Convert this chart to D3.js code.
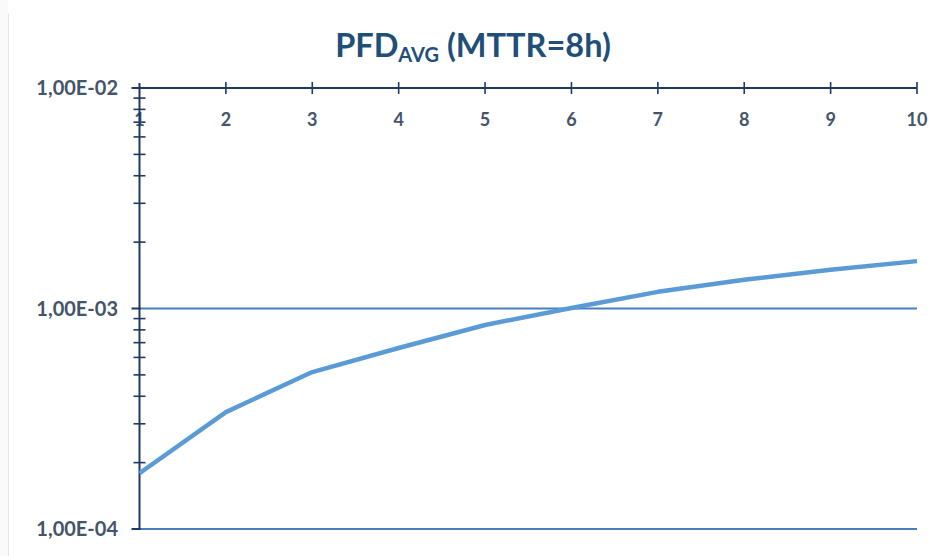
<!DOCTYPE html>
<html><head><meta charset="utf-8">
<script src="https://cdn.jsdelivr.net/npm/d3@7"></script>
<style>body{margin:0;background:#fff}</style>
</head><body>
<svg id="c" width="929" height="556"></svg>
<script>
const years = [1,2,3,4,5,6,7,8,9,10];
const pfdAvg = [1.79e-4,3.39e-4,5.15e-4,6.62e-4,8.42e-4,1.005e-3,1.19e-3,1.35e-3,1.50e-3,1.64e-3];
const yTickValues = [1e-2,1e-3,1e-4];
const yTickLabels = ["1,00E-02","1,00E-03","1,00E-04"];
const titleMain = "PFD", titleSub = "AVG", titleRest = " (MTTR=8h)";

const svg = d3.select("#c");
const navy = "#203864", gridC = "#4a7ebb", lineC = "#5b9bd5", labelC = "#44546a";
const font = "Lato, 'Open Sans', sans-serif";

// faint page edge
svg.append("rect").attr("x",0).attr("y",0).attr("width",8).attr("height",556).attr("fill","#fafafa");
svg.append("line").attr("x1",8.5).attr("x2",8.5).attr("y1",14).attr("y2",556).attr("stroke","#e6e6e6");

const x = d3.scaleLinear().domain([1,10]).range([139.5,917]);
const y = d3.scaleLog().domain([1e-4,1e-2]).range([529,88]);

// gridlines
svg.append("g").selectAll("line").data([1e-3,1e-4]).join("line")
  .attr("x1",x(1)).attr("x2",x(10)).attr("y1",d=>y(d)).attr("y2",d=>y(d))
  .attr("stroke",gridC).attr("stroke-width",2);

// y axis minor ticks (crossing)
const minor = [];
[1e-4,1e-3].forEach(b=>{for(let k=2;k<=9;k++) minor.push(b*k);});
svg.append("g").selectAll("line").data(minor).join("line")
  .attr("x1",x(1)-6).attr("x2",x(1)+6).attr("y1",d=>y(d)).attr("y2",d=>y(d))
  .attr("stroke",navy).attr("stroke-width",1.6);
svg.append("g").selectAll("line").data(yTickValues).join("line")
  .attr("x1",x(1)-8).attr("x2",x(1)+1).attr("y1",d=>y(d)).attr("y2",d=>y(d))
  .attr("stroke",navy).attr("stroke-width",2);

// x tick labels (below top axis)
svg.append("g").selectAll("text").data(years).join("text")
  .attr("x",d=>x(d)).attr("y",126).attr("text-anchor","middle")
  .attr("font-family",font).attr("font-weight","bold").attr("font-size",18)
  .attr("fill",labelC).text(d=>d);

// top x axis line & ticks
svg.append("line").attr("x1",x(1)).attr("x2",x(10)).attr("y1",y(1e-2)).attr("y2",y(1e-2))
  .attr("stroke",navy).attr("stroke-width",2);
svg.append("g").selectAll("line").data(years.slice(1)).join("line")
  .attr("x1",d=>x(d)).attr("x2",d=>x(d)).attr("y1",y(1e-2)-6).attr("y2",y(1e-2)+6)
  .attr("stroke",navy).attr("stroke-width",1.6);

// y axis line
svg.append("line").attr("x1",x(1)).attr("x2",x(1)).attr("y1",y(1e-2)-5).attr("y2",y(1e-4))
  .attr("stroke",navy).attr("stroke-width",2);

// y labels
svg.append("g").selectAll("text").data(yTickValues).join("text")
  .attr("x",118).attr("y",d=>y(d)+7).attr("text-anchor","end")
  .attr("font-family",font).attr("font-weight","bold").attr("font-size",20)
  .attr("fill",labelC).text((d,i)=>yTickLabels[i]);

// data line
const line = d3.line().x((d,i)=>x(years[i])).y(d=>y(d));
svg.append("path").datum(pfdAvg).attr("d",line).attr("fill","none")
  .attr("stroke",lineC).attr("stroke-width",4.5).attr("stroke-linejoin","round");

// title
const t = svg.append("text").attr("x",473).attr("y",57).attr("text-anchor","middle")
  .attr("font-family",font).attr("font-weight","bold").attr("font-size",32.5).attr("fill","#1f4e79");
t.append("tspan").text(titleMain);
t.append("tspan").attr("font-size",20).attr("dy",5).text(titleSub);
t.append("tspan").attr("dy",-5).text(titleRest);
</script>
</body></html>
